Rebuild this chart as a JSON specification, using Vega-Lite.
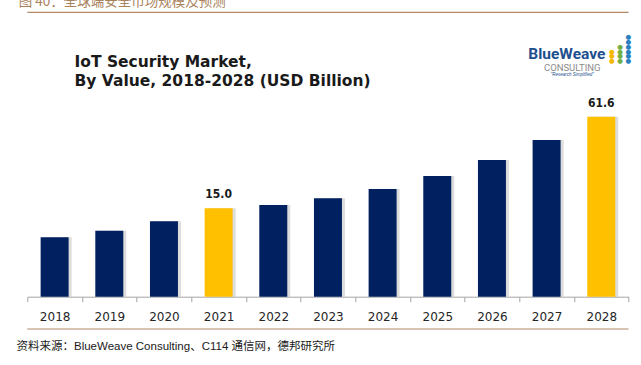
{
  "$schema": "https://vega.github.io/schema/vega-lite/v6.json",
  "autosize": {"type": "none"},
  "width": 601.3,
  "height": 196.95,
  "padding": {"left": 27.3, "top": 99.75, "right": 12.4, "bottom": 68.3},
  "background": "white",
  "config": {"view": {"stroke": null}},
  "data": {
    "values": [
      {"year": "2018", "value": 9.6},
      {"year": "2019", "value": 10.6},
      {"year": "2020", "value": 12.3},
      {"year": "2021", "value": 15.0},
      {"year": "2022", "value": 15.8},
      {"year": "2023", "value": 17.5},
      {"year": "2024", "value": 20.2},
      {"year": "2025", "value": 24.7},
      {"year": "2026", "value": 31.6},
      {"year": "2027", "value": 43.0},
      {"year": "2028", "value": 61.6}
    ]
  },
  "layer": [
    {
      "mark": {"type": "bar", "color": "#c4c4c4", "opacity": 0.6, "xOffset": 3, "width": {"band": 0.512}},
      "encoding": {
        "x": {
          "field": "year",
          "type": "ordinal",
          "scale": {"paddingInner": 0, "paddingOuter": 0},
          "axis": {
            "labelAngle": 0,
            "labelFont": "DejaVu Sans",
            "labelFontSize": 12,
            "labelColor": "#262626",
            "labelPadding": 10,
            "tickBand": "extent",
            "tickSize": 5,
            "tickColor": "#a6a6a6",
            "domainColor": "#a6a6a6",
            "title": "资料来源：BlueWeave Consulting、C114 通信网，德邦研究所",
            "titleFont": "Liberation Sans, Noto Sans CJK SC",
            "titleFontSize": 11.5,
            "titleFontWeight": "normal",
            "titleColor": "#1a1a1a",
            "titleAnchor": "start",
            "titleAlign": "left",
            "titleBaseline": "alphabetic",
            "titleX": -11.3,
            "titleY": 52.3
          }
        },
        "y": {
          "field": "value",
          "type": "quantitative",
          "scale": {"type": "log", "domain": [3.837, 80], "nice": false},
          "axis": {
            "domain": false,
            "ticks": false,
            "labels": false,
            "grid": false,
            "title": ["IoT Security Market,", "By Value, 2018-2028 (USD Billion)"],
            "titleFont": "DejaVu Sans",
            "titleFontSize": 15.5,
            "titleFontWeight": "bold",
            "titleColor": "#1a1a1a",
            "titleAngle": 0,
            "titleAlign": "left",
            "titleBaseline": "alphabetic",
            "titleLineHeight": 19,
            "titleX": 46.7,
            "titleY": -33.75
          }
        },
        "y2": {"datum": 3.837}
      }
    },
    {
      "mark": {"type": "bar", "width": {"band": 0.512}},
      "encoding": {
        "x": {"field": "year", "type": "ordinal"},
        "y": {"field": "value", "type": "quantitative"},
        "y2": {"datum": 3.837},
        "color": {
          "condition": {"test": "datum.year === '2021' || datum.year === '2028'", "value": "#FFC000"},
          "value": "#002060"
        }
      }
    },
    {
      "transform": [{"filter": "datum.year === '2021' || datum.year === '2028'"}],
      "mark": {"type": "text", "font": "DejaVu Sans Condensed", "fontSize": 12, "fontWeight": "bold", "color": "#1a1a1a", "baseline": "alphabetic", "dy": -10},
      "encoding": {
        "x": {"field": "year", "type": "ordinal"},
        "y": {"field": "value", "type": "quantitative"},
        "text": {"field": "value", "type": "quantitative", "format": ".1f"}
      }
    },
    {
      "data": {"values": [{}]},
      "mark": {"type": "rule", "color": "#b48a66", "strokeWidth": 1.2},
      "encoding": {"y": {"datum": 308.2}}
    },
    {
      "data": {"values": [{}]},
      "mark": {"type": "rule", "color": "#b48a66", "strokeWidth": 1.2},
      "encoding": {"y": {"datum": 2.332}}
    },
    {
      "data": {"values": [{"t": "图 40：全球端安全市场规模及预测"}]},
      "mark": {"type": "text", "font": "Noto Sans CJK SC", "fontSize": 13.5, "color": "#a8825c", "align": "left", "baseline": "alphabetic", "dx": -36},
      "encoding": {"x": {"datum": "2018"}, "y": {"datum": 340}, "text": {"field": "t"}}
    },
    {
      "data": {"values": [{"t": "BlueWeave"}]},
      "mark": {"type": "text", "font": "Roboto", "fontSize": 15.5, "fontWeight": "bold", "color": "#1e4f8e", "align": "center", "baseline": "middle", "dx": -34.5},
      "encoding": {"x": {"datum": "2028"}, "y": {"datum": 161}, "text": {"field": "t"}}
    },
    {
      "data": {"values": [{"t": "CONSULTING"}]},
      "mark": {"type": "text", "font": "Liberation Sans Narrow, Roboto", "fontSize": 9.5, "color": "#8c8c8c", "align": "center", "baseline": "middle", "dx": -29},
      "encoding": {"x": {"datum": "2028"}, "y": {"datum": 130}, "text": {"field": "t"}}
    },
    {
      "data": {"values": [{"t": "\"Research Simplified\""}]},
      "mark": {"type": "text", "font": "Liberation Sans", "fontSize": 4.5, "fontStyle": "italic", "color": "#1e4f8e", "align": "center", "baseline": "middle", "dx": -29},
      "encoding": {"x": {"datum": "2028"}, "y": {"datum": 117.5}, "text": {"field": "t"}}
    },
    {
      "data": {"values": [{}]},
      "mark": {"type": "text", "text": ["●", "●", "●"], "font": "DejaVu Sans", "fontSize": 6.5, "lineHeight": 4.8, "color": "#f5b800", "align": "center", "baseline": "top", "dx": 10.5},
      "encoding": {"x": {"datum": "2028"}, "y": {"datum": 176.1}}
    },
    {
      "data": {"values": [{}]},
      "mark": {"type": "text", "text": ["●", "●", "●", "●"], "font": "DejaVu Sans", "fontSize": 6.5, "lineHeight": 4.8, "color": "#72b043", "align": "center", "baseline": "top", "dx": 18.8},
      "encoding": {"x": {"datum": "2028"}, "y": {"datum": 189.6}}
    },
    {
      "data": {"values": [{}]},
      "mark": {"type": "text", "text": ["●", "●", "●", "●", "●", "●"], "font": "DejaVu Sans", "fontSize": 6.5, "lineHeight": 4.8, "color": "#2a7fc1", "align": "center", "baseline": "top", "dx": 27.1},
      "encoding": {"x": {"datum": "2028"}, "y": {"datum": 219.8}}
    }
  ]
}
